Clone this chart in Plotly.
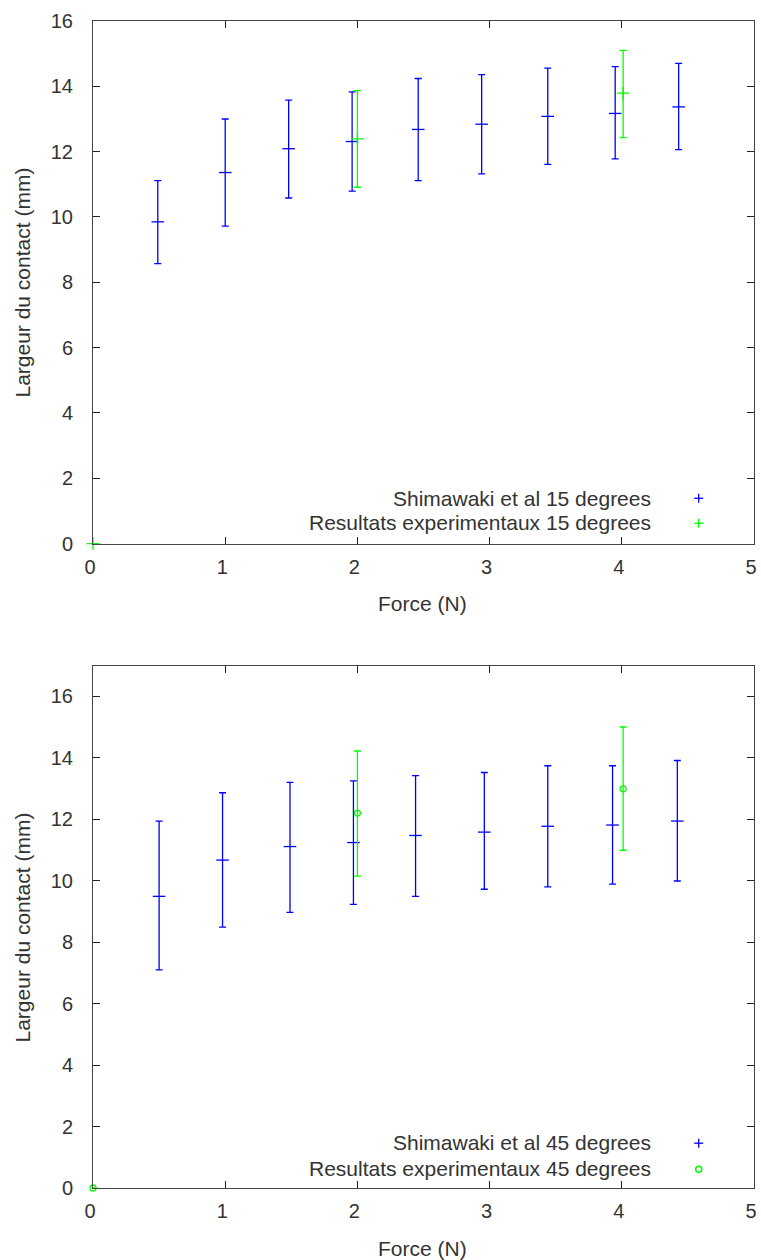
import plotly.graph_objects as go

# ---------------- data ----------------
# Top panel: 15 degrees
shim15_x = [0.49, 1.00, 1.48, 1.96, 2.46, 2.94, 3.44, 3.95, 4.43]
shim15_y = [9.85, 11.36, 12.09, 12.31, 12.68, 12.84, 13.08, 13.17, 13.37]
shim15_hi = [11.11, 13.00, 13.58, 13.83, 14.24, 14.36, 14.56, 14.60, 14.70]
shim15_lo = [8.57, 9.72, 10.58, 10.79, 11.11, 11.32, 11.61, 11.78, 12.06]

exp15_x = [0.0, 2.0, 4.01]
exp15_y = [0.0, 12.39, 13.79]
exp15_hi = [0.0, 13.87, 15.10]
exp15_lo = [0.0, 10.91, 12.43]

# Bottom panel: 45 degrees
shim45_x = [0.50, 0.98, 1.49, 1.97, 2.44, 2.96, 3.44, 3.93, 4.42]
shim45_y = [9.49, 10.67, 11.11, 11.24, 11.47, 11.58, 11.77, 11.81, 11.94]
shim45_hi = [11.94, 12.86, 13.20, 13.25, 13.42, 13.52, 13.74, 13.74, 13.91]
shim45_lo = [7.10, 8.49, 8.97, 9.23, 9.49, 9.72, 9.80, 9.89, 9.99]

exp45_x = [0.0, 2.0, 4.01]
exp45_y = [0.0, 12.20, 12.99]
exp45_hi = [0.0, 14.22, 15.00]
exp45_lo = [0.0, 10.15, 10.99]

legend15 = ["Shimawaki et al 15 degrees", "Resultats experimentaux 15 degrees"]
legend45 = ["Shimawaki et al 45 degrees", "Resultats experimentaux 45 degrees"]
x_title = "Force (N)"
y_title = "Largeur du contact (mm)"

x_ticks = [0, 1, 2, 3, 4, 5]
y_ticks = [0, 2, 4, 6, 8, 10, 12, 14, 16]

BLUE = "#0000ff"
GREEN = "#00ff00"
FONT = "Liberation Sans, Arial, sans-serif"
TXT = "#333333"
LBL_SIZE = 21
TICK_SIZE = 20

# page pixels (body margin removed via post_script)
W, H = 761, 1260
ML = 93
MR = W - 756.5
MT = 20.7
MB = H - 1187.8
PW, PH = W - ML - MR, H - MT - MB


def px(xp):
    return (xp - ML) / PW


def py(yp):
    return (H - MB - yp) / PH


def errtrace(x, y, lo, hi, color, symbol, size, xa, ya):
    return go.Scatter(
        x=x, y=y, mode="markers", xaxis=xa, yaxis=ya, showlegend=False,
        cliponaxis=False,
        marker=dict(symbol=symbol, size=size, color=color,
                    line=dict(color=color, width=1.3)),
        error_y=dict(type="data", symmetric=False,
                     array=[h - v for h, v in zip(hi, y)],
                     arrayminus=[v - l for v, l in zip(y, lo)],
                     color=color, thickness=1.3, width=3.5),
    )


fig = go.Figure()
fig.add_trace(errtrace(shim15_x, shim15_y, shim15_lo, shim15_hi, BLUE, "line-ew", 9, "x", "y"))
fig.add_trace(errtrace(exp15_x, exp15_y, exp15_lo, exp15_hi, GREEN, "cross-thin", 9, "x", "y"))
fig.add_trace(errtrace(shim45_x, shim45_y, shim45_lo, shim45_hi, BLUE, "line-ew", 9, "x2", "y2"))
fig.add_trace(errtrace(exp45_x, exp45_y, exp45_lo, exp45_hi, GREEN, "circle-open", 6, "x2", "y2"))

top_dom = [py(543.3), 1.0]
bot_dom = [0.0, py(665.3)]

axis_common = dict(
    showline=True, linecolor="#444444", linewidth=1, mirror="allticks",
    ticks="inside", ticklen=7, tickcolor="#222222", tickwidth=1,
    showgrid=False, zeroline=False,
    tickfont=dict(family=FONT, size=TICK_SIZE, color=TXT),
)
xextra = dict(range=[0, 5], tickvals=x_ticks, domain=[0, 1],
              ticklabelstandoff=5, ticklabelshift=-3,
              ticklabeloverflow="allow")

fig.update_layout(
    width=W, height=H,
    margin=dict(l=ML, r=MR, t=MT, b=MB, pad=0),
    paper_bgcolor="white", plot_bgcolor="white",
    showlegend=False,
    xaxis=dict(axis_common, **xextra, anchor="y"),
    yaxis=dict(axis_common, range=[0, 16], tickvals=y_ticks, anchor="x",
               domain=top_dom, ticklabelstandoff=15),
    xaxis2=dict(axis_common, **xextra, anchor="y2"),
    yaxis2=dict(axis_common, range=[0, 17], tickvals=y_ticks, anchor="x2",
                domain=bot_dom, ticklabelstandoff=15),
)

ann = []
shapes = []


def text(xp, yp, s, xanchor="center", angle=0):
    ann.append(dict(x=px(xp), y=py(yp), xref="paper", yref="paper", text=s,
                    showarrow=False, xanchor=xanchor, yanchor="middle",
                    textangle=angle,
                    font=dict(family=FONT, size=LBL_SIZE, color=TXT)))


def plus(xp, yp, color):
    x = px(xp)
    y = py(yp)
    shapes.append(dict(type="line", xref="paper", yref="paper",
                       xsizemode="pixel", ysizemode="pixel",
                       xanchor=x, yanchor=y, x0=-4.5, x1=4.5, y0=0, y1=0,
                       line=dict(color=color, width=1.3)))
    shapes.append(dict(type="line", xref="paper", yref="paper",
                       xsizemode="pixel", ysizemode="pixel",
                       xanchor=x, yanchor=y, x0=0, x1=0, y0=-4.5, y1=4.5,
                       line=dict(color=color, width=1.3)))


def circ(xp, yp, color):
    shapes.append(dict(type="circle", xref="paper", yref="paper",
                       xsizemode="pixel", ysizemode="pixel",
                       xanchor=px(xp), yanchor=py(yp), x0=-3, x1=3, y0=-3, y1=3,
                       line=dict(color=color, width=1.5)))


# axis titles
text(424, 603, x_title)
text(424, 1248, x_title)
text(22, 282, y_title, angle=-90)
text(22, 927, y_title, angle=-90)

# legends
text(655, 498, legend15[0], xanchor="right")
text(655, 522, legend15[1], xanchor="right")
plus(701, 498, BLUE)
plus(701, 523, GREEN)

text(655, 1142, legend45[0], xanchor="right")
text(655, 1168, legend45[1], xanchor="right")
plus(701, 1143, BLUE)
circ(701, 1169, GREEN)

fig.update_layout(annotations=ann, shapes=shapes)

fig.write_html(
    "out.html",
    config={"displayModeBar": False},
    post_script="document.body.style.margin='0px';"
                "document.body.style.overflow='hidden';",
)
